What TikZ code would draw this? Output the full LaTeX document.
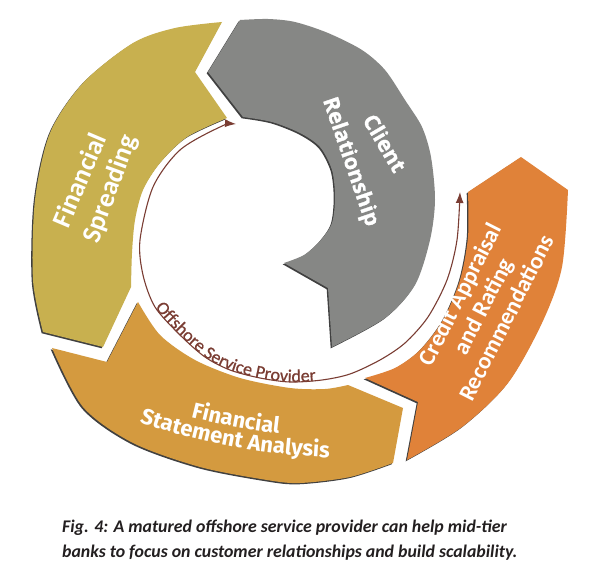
\documentclass[tikz,border=0pt]{standalone}
\usepackage{fontspec}
\setmainfont{Carlito}
\newfontfamily\clientfont{Open Sans}[FakeBold=1.2]
\newfontfamily\statfont{Fira Sans}
\newfontfamily\arcfont{Carlito}[FakeBold=0.7]
\usetikzlibrary{arrows.meta,decorations.text}
\definecolor{spreadc}{HTML}{C8B04F}
\definecolor{clientc}{HTML}{868785}
\definecolor{statc}{HTML}{D49A3F}
\definecolor{creditc}{HTML}{E08239}
\definecolor{arrowc}{HTML}{7A3D33}
\definecolor{capc}{HTML}{231F20}
\tikzset{
  ringpart/.style={preaction={fill=black!75,transform canvas={shift={(-1.3pt,-1.3pt)}}}},
  lbl/.style={text=white,inner sep=0pt,align=center}
}
\begin{document}
\begin{tikzpicture}[x=1pt,y=-1pt]
  \fill[white] (0,0) rectangle (595,572);
  \useasboundingbox (0,0) rectangle (595,572);
  % four parts of the ring
  \fill[spreadc,ringpart] (222,22) -- (195,72)
    -- plot[smooth] coordinates {(227,118) (187,137) (160,163) (143,190) (135,220) (132,253) (131,287)}
    -- (103,347)
    -- plot[smooth] coordinates {(43,332) (33,280) (35,200) (50,133) (83,83) (133,43) (175,28) (222,22)} -- cycle;
  \fill[clientc,ringpart] (240,20) -- (208,72)
    -- plot[smooth] coordinates {(243,117) (272,122) (300,133) (320,147) (332,170) (335,197) (332,223) (320,241) (304,255) (284,263)}
    -- (328,288)
    -- plot[smooth] coordinates {(332,347) (385,318) (415,285) (430,240) (435,200) (431,157) (422,127) (405,100) (385,70) (362,50) (328,33) (295,22) (268,19) (240,20)} -- cycle;
  \fill[statc,ringpart] (52,348) -- (107,362)
    -- plot[smooth] coordinates {(138,302) (160,335) (195,360) (240,378) (290,388) (325,389) (348,385)}
    -- (403,408)
    -- plot[smooth] coordinates {(393,463) (350,477) (300,483) (267,480) (200,467) (133,443) (83,407) (52,348)} -- cycle;
  \fill[creditc,ringpart] (365,378) -- (418,402)
    -- plot[smooth] coordinates {(407,460) (462,427) (508,383) (542,323) (562,267) (568,190)}
    -- (521,157)
    -- plot[smooth] coordinates {(468,192) (468,237) (460,280) (443,320) (420,350) (395,368) (365,378)} -- cycle;
  % inner arrow
  \draw[arrowc,line width=1.1pt,{Latex[length=11pt,width=8pt]}-{Latex[length=11pt,width=8pt]}]
    plot[smooth] coordinates {(236,124) (220,127) (180,150) (153,187) (140,240) (143,275) (155,307) (180,335) (205,357) (230,370) (260,378) (290,382) (322,380) (350,374) (380,360) (405,343) (428,317) (447,280) (457,240) (460,192)};
  \path[decorate,decoration={text along path,text align=center,
      text={|\fontsize{18}{18}\selectfont\arcfont\color{arrowc}|Offshore Service Provider}}]
    plot[smooth] coordinates {(143,275) (155,307) (180,335) (205,357) (230,370) (260,378) (290,382) (322,380) (350,374)};
  % labels
  \node[lbl,rotate=67,font=\fontsize{27}{31}\selectfont\bfseries] (spreadA) at (79,180) {Financial};
  \node[lbl,rotate=70,font=\fontsize{27}{31}\selectfont\bfseries] (spreadB) at (111,189) {Spreading};
  \node[lbl,rotate=-59.5,font=\fontsize{21.5}{25}\selectfont\clientfont\bfseries] (clientA) at (385,143) {Client};
  \node[lbl,rotate=-71,font=\fontsize{21.5}{25}\selectfont\clientfont\bfseries] (clientB) at (350,162) {Relationship};
  \path[decorate,decoration={text along path,text align=center,
      text={|\fontsize{22}{22}\selectfont\statfont\bfseries\color{white}|Financial}}]
    plot[domain=116:85.4,samples=40] ({354+643*cos(\x)},{-205+643*sin(\x)});
  \path[decorate,decoration={text along path,text align=center,
      text={|\fontsize{22}{22}\selectfont\statfont\bfseries\color{white}|Statement Analysis}}]
    plot[domain=116:85,samples=40] ({354+663*cos(\x)},{-205+663*sin(\x)});
  \node[lbl,rotate=63,font=\fontsize{23.5}{26}\selectfont\bfseries] (credit) at (483,306)
    {Credit Appraisal\\and Rating\\Recommendations};
  % caption
  \node[anchor=base west,inner sep=0pt,text=capc,font=\fontsize{17.8}{20}\selectfont\bfseries\itshape] (capA) at (62,532)
    {Fig. 4: A matured offshore service provider can help mid-tier};
  \node[anchor=base west,inner sep=0pt,text=capc,font=\fontsize{17.8}{20}\selectfont\bfseries\itshape] (capB) at (62,557)
    {banks to focus on customer relationships and build scalability.};
\end{tikzpicture}
\end{document}
